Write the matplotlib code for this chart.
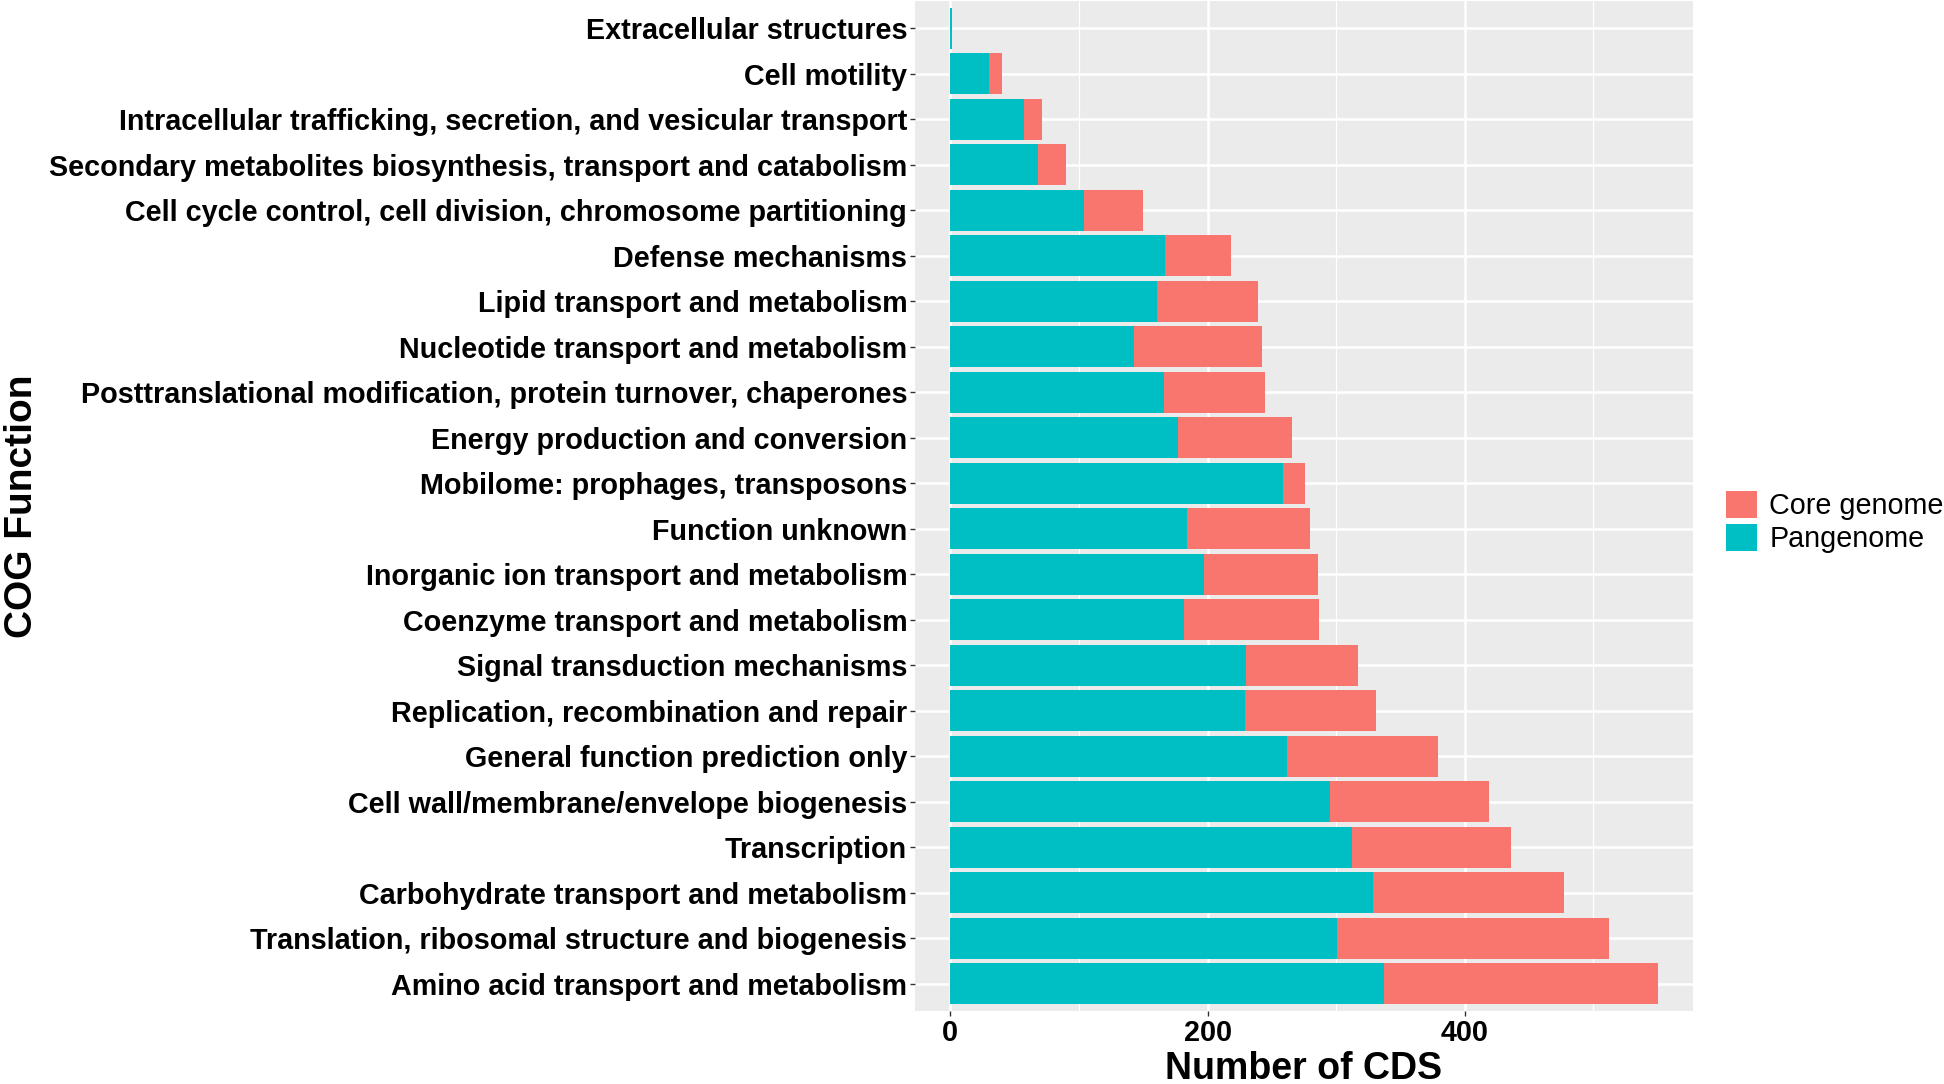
import matplotlib
matplotlib.use("Agg")
import matplotlib.pyplot as plt
from matplotlib.ticker import MultipleLocator

plt.rcParams['font.family'] = ['Liberation Sans', 'DejaVu Sans']

# categories from bottom to top (ggplot factor order)
categories = [
    "Amino acid transport and metabolism",
    "Translation, ribosomal structure and biogenesis",
    "Carbohydrate transport and metabolism",
    "Transcription",
    "Cell wall/membrane/envelope biogenesis",
    "General function prediction only",
    "Replication, recombination and repair",
    "Signal transduction mechanisms",
    "Coenzyme transport and metabolism",
    "Inorganic ion transport and metabolism",
    "Function unknown",
    "Mobilome: prophages, transposons",
    "Energy production and conversion",
    "Posttranslational modification, protein turnover, chaperones",
    "Nucleotide transport and metabolism",
    "Lipid transport and metabolism",
    "Defense mechanisms",
    "Cell cycle control, cell division, chromosome partitioning",
    "Secondary metabolites biosynthesis, transport and catabolism",
    "Intracellular trafficking, secretion, and vesicular transport",
    "Cell motility",
    "Extracellular structures",
]
pangenome = [337, 301, 329, 312, 295, 262, 229, 230, 182, 197, 184,
             259, 177, 166, 143, 161, 167, 104, 68, 57, 30, 1]
core_genome = [213, 211, 148, 124, 124, 117, 102, 87, 105, 89, 96,
               17, 89, 79, 99, 78, 51, 46, 22, 14, 10, 0]
x_ticks = [0, 200, 400]

W, H = 1944, 1084
fig = plt.figure(figsize=(W / 100, H / 100), dpi=100)
ax = fig.add_axes([915 / W, 1 - 1011 / H, (1693 - 915) / W, (1011 - 1) / H])

ax.set_facecolor('#EBEBEB')
for s in ax.spines.values():
    s.set_visible(False)

y = list(range(len(categories)))
ax.barh(y, pangenome, height=0.9, color='#00BFC4', label='Pangenome')
ax.barh(y, core_genome, left=pangenome, height=0.9, color='#F8766D', label='Core genome')

ax.set_xlim(-27.5, 577.5)
ax.set_ylim(-0.6, len(categories) - 0.4)
ax.set_xticks(x_ticks)
ax.xaxis.set_minor_locator(MultipleLocator(100))
ax.set_yticks(y)
ax.set_yticklabels(categories)

ax.set_axisbelow(True)
ax.grid(which='major', color='white', linewidth=1.8)
ax.grid(which='minor', axis='x', color='white', linewidth=0.9)

ax.tick_params(axis='both', which='major', length=3.6, width=1.0, color='#333333',
               labelsize=20.7, labelcolor='black', pad=2)
ax.tick_params(axis='x', which='minor', length=0)
for lab in ax.get_xticklabels() + ax.get_yticklabels():
    lab.set_fontweight('bold')

ax.set_xlabel('Number of CDS', fontsize=27, fontweight='bold')
ax.xaxis.set_label_coords(0.5, -0.0397)
ax.set_ylabel('COG Function', fontsize=28, fontweight='bold')
ax.yaxis.set_label_coords(-1.1247, 0.5)

handles, labels = ax.get_legend_handles_labels()
fig.legend(handles[::-1], labels[::-1], loc='center left',
           bbox_to_anchor=(1726 / W, 1 - 522 / H), frameon=False,
           fontsize=20.7, handlelength=1.08, handleheight=1.08,
           handletextpad=0.42, labelspacing=0.12, borderpad=0, borderaxespad=0)

fig.savefig('out.png', dpi=100)
